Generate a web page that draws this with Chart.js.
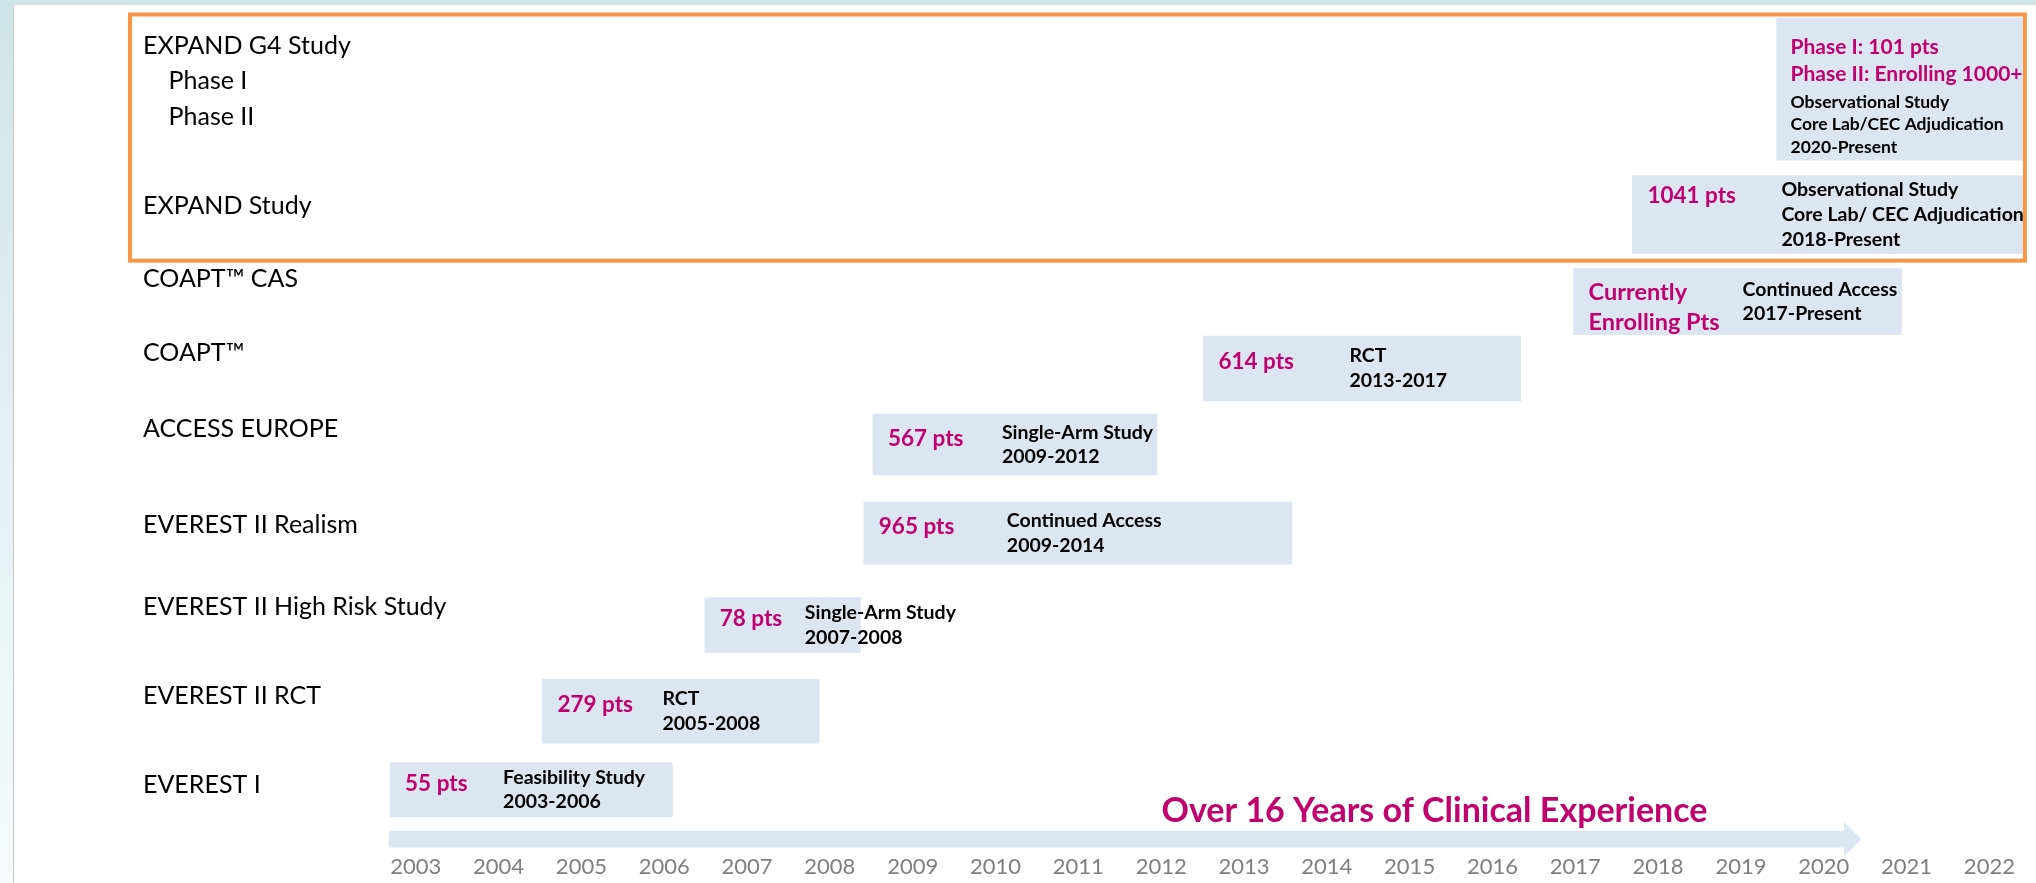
<!DOCTYPE html>
<html>
<head>
<meta charset="utf-8">
<script src="https://cdn.jsdelivr.net/npm/chart.js@4.4.1/dist/chart.umd.min.js"></script>
<style>
  html, body { margin: 0; padding: 0; }
  body {
    width: 2036px; height: 883px; overflow: hidden; position: relative;
    background: linear-gradient(180deg, #cfe4e6 0%, #e2eff1 45%, #f6fafb 100%);
  }
  #slide { position: absolute; left: 13px; top: 5px; right: 0; bottom: 0; background: #fff; border-left: 1px solid #c4c9cb; }
  #timeline { position: absolute; left: 0; top: 0; }
</style>
</head>
<body>
<div id="slide"></div>
<canvas id="timeline" width="2036" height="883"></canvas>
<script>
// x axis tick labels
var years = [2003, 2004, 2005, 2006, 2007, 2008, 2009, 2010, 2011, 2012,
             2013, 2014, 2015, 2016, 2017, 2018, 2019, 2020, 2021, 2022];

// one entry per study, top to bottom
var studies  = ["EXPAND G4 Study", "EXPAND Study", "COAPT™ CAS", "COAPT™", "ACCESS EUROPE",
                "EVEREST II Realism", "EVEREST II High Risk Study", "EVEREST II RCT", "EVEREST I"];
var starts   = [2019.43, 2017.69, 2016.98, 2012.51, 2008.52, 2008.41, 2006.49, 2004.53, 2002.69];
var ends     = [2022.43, 2022.43, 2020.94, 2016.34, 2011.95, 2013.58, 2008.37, 2007.87, 2006.10];
var lanes    = [0.90, 2.40, 3.44, 4.24, 5.15, 6.21, 7.31, 8.34, 9.28];
var patients = ["Phase I: 101 pts\nPhase II: Enrolling 1000+", "1041 pts", "Currently\nEnrolling Pts",
                "614 pts", "567 pts", "965 pts", "78 pts", "279 pts", "55 pts"];
var design   = ["Observational Study\nCore Lab/CEC Adjudication\n2020-Present",
                "Observational Study\nCore Lab/ CEC Adjudication\n2018-Present",
                "Continued Access\n2017-Present", "RCT\n2013-2017", "Single-Arm Study\n2009-2012",
                "Continued Access\n2009-2014", "Single-Arm Study\n2007-2008", "RCT\n2005-2008",
                "Feasibility Study\n2003-2006"];

// row names on the left
var rowNames = ["EXPAND G4 Study", "    Phase I", "    Phase II", "EXPAND Study", "COAPT™ CAS", "COAPT™",
                "ACCESS EUROPE", "EVEREST II Realism", "EVEREST II High Risk Study", "EVEREST II RCT", "EVEREST I"];
var rowLanes = [0.38, 0.80, 1.23, 2.30, 3.17, 4.06, 4.96, 6.11, 7.09, 8.16, 9.22];

// experience arrow
var arrowFrom = 2002.68;
var arrowTo   = 2020.35;
var arrowLane = 9.87;
var caption   = "Over 16 Years of Clinical Experience";

// styling
var BAR = '#dce6f2';
var MAGENTA = '#c0006f';
var FONT = 'Lato, "Open Sans", sans-serif';
var barHeights = [142, 78, 66, 65, 61, 62, 55, 64, 54];
var noteShift  = [0, 149, 169, 146, 129, 143, 100, 120, 113];   // 0 = notes stacked under pts
var captionAt  = 2015.3;
var frameLanes = [0, 2.95];

// arrow head glyph
var head = document.createElement('canvas');
head.width = 17; head.height = 34;
var hc = head.getContext('2d');
hc.fillStyle = BAR;
hc.beginPath(); hc.moveTo(0, 0); hc.lineTo(17, 17); hc.lineTo(0, 34); hc.closePath(); hc.fill();

var datasets = studies.map(function (name, i) {
  return {
    label: name,
    data: [{ x: [starts[i], ends[i]], y: lanes[i] }],
    backgroundColor: BAR, borderWidth: 0,
    barThickness: barHeights[i], stack: 'lane', clip: false
  };
});
datasets.push({
  label: 'arrow',
  data: [{ x: [arrowFrom, arrowTo], y: arrowLane }],
  backgroundColor: BAR, borderWidth: 0, barThickness: 16, stack: 'lane', clip: false
});
datasets.push({
  type: 'scatter', label: 'arrow head',
  data: [{ x: arrowTo, y: arrowLane }],
  pointStyle: head, pointRadius: 10, clip: false
});

// texts inside the bars, caption and the orange frame
var slideText = {
  id: 'slideText',
  afterDatasetsDraw: function (chart) {
    var ctx = chart.ctx;
    var xs = chart.scales.x, ys = chart.scales.y;
    ctx.save();
    ctx.textBaseline = 'middle';
    ctx.textAlign = 'left';
    studies.forEach(function (name, i) {
      var b = chart.getDatasetMeta(i).data[0].getProps(['x', 'y', 'base', 'height'], true);
      var left = Math.min(b.x, b.base);
      var top = b.y - b.height / 2;
      var pts = patients[i].split('\n');
      var notes = design[i].split('\n');
      if (noteShift[i] === 0) {
        ctx.font = 'bold 21px ' + FONT; ctx.fillStyle = MAGENTA;
        pts.forEach(function (t, k) { ctx.fillText(t, left + 14, top + 29 + k * 27); });
        ctx.font = 'bold 17.5px ' + FONT; ctx.fillStyle = '#000';
        notes.forEach(function (t, k) { ctx.fillText(t, left + 14, top + 84 + k * 22.5); });
        return;
      }
      var gap = notes.length > 2 ? 25 : 24.5;
      var first = b.y - (notes.length - 1) / 2 * gap;
      ctx.font = (pts.length > 1 ? 'bold 23.5px ' : 'bold 22.5px ') + FONT; ctx.fillStyle = MAGENTA;
      pts.forEach(function (t, k) {
        ctx.fillText(t, left + 15, first + (pts.length > 1 ? 3 + k * 30 : 6));
      });
      ctx.font = 'bold 19.5px ' + FONT; ctx.fillStyle = '#000';
      notes.forEach(function (t, k) { ctx.fillText(t, left + noteShift[i], first + k * gap); });
    });

    var shaft = chart.getDatasetMeta(studies.length).data[0];
    ctx.font = 'bold 34px ' + FONT; ctx.fillStyle = MAGENTA; ctx.textAlign = 'center';
    ctx.fillText(caption, xs.getPixelForValue(captionAt), shaft.y - 28);

    var a = chart.chartArea;
    var y0 = ys.getPixelForValue(frameLanes[0]) + 0.5;
    var y1 = ys.getPixelForValue(frameLanes[1]);
    ctx.strokeStyle = '#f79646'; ctx.lineWidth = 4;
    ctx.strokeRect(a.left, y0, a.right - a.left, y1 - y0);
    ctx.restore();
  }
};

new Chart(document.getElementById('timeline'), {
  type: 'bar',
  data: { datasets: datasets },
  plugins: [slideText],
  options: {
    responsive: false,
    animation: false,
    indexAxis: 'y',
    layout: { padding: { left: 130, right: 2.5, top: 14, bottom: 3 } },
    scales: {
      x: {
        type: 'linear', position: 'bottom', min: 1999.55, max: 2022.43, stacked: false, offset: false,
        grid: { display: false, drawTicks: false }, border: { display: false },
        afterBuildTicks: function (s) { s.ticks = years.map(function (v) { return { value: v }; }); },
        afterFit: function (s) { s.height = 30; s.paddingLeft = 0; s.paddingRight = 0; },
        ticks: {
          autoSkip: false, maxRotation: 0, padding: 4, color: '#7f7f7f',
          font: { family: FONT, size: 22 },
          callback: function (v) { return String(v); }
        }
      },
      y: {
        type: 'linear', position: 'left', reverse: true, min: 0, max: 10, offset: false,
        grid: { display: false, drawTicks: false, offset: false }, border: { display: false },
        afterBuildTicks: function (s) { s.ticks = rowLanes.map(function (v) { return { value: v }; }); },
        afterFit: function (s) { s.width = 0; s.paddingTop = 0; s.paddingBottom = 0; },
        ticks: {
          mirror: true, padding: 13, autoSkip: false, color: '#000',
          font: { family: FONT, size: 25 },
          callback: function (v, i) { return rowNames[i]; }
        }
      }
    },
    plugins: { legend: { display: false }, tooltip: { enabled: false } }
  }
});
</script>
</body>
</html>
